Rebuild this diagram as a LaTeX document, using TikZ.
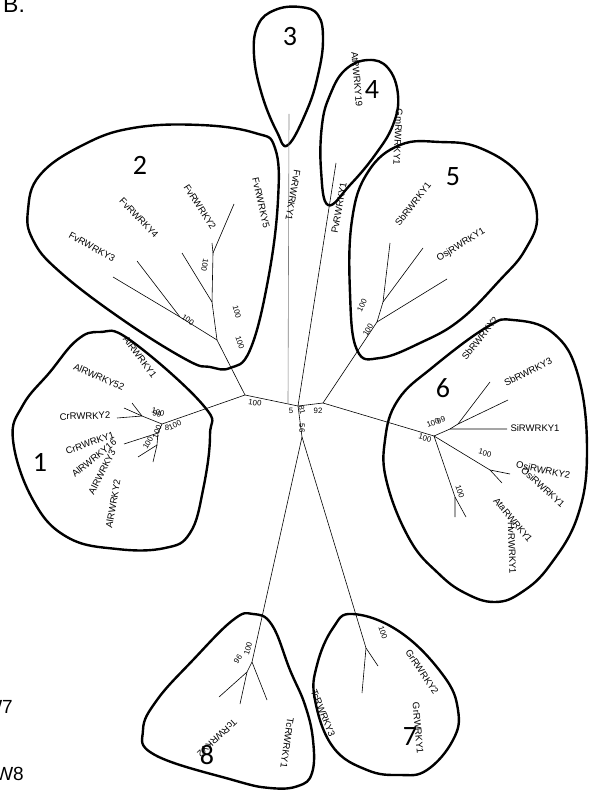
\documentclass[tikz,border=0pt]{standalone}
\usepackage{fontspec}
\setmainfont{Liberation Sans}
\newfontfamily\numfont{Carlito}
\begin{document}
\begin{tikzpicture}[x=1pt,y=-1pt,
  br/.style={line width=0.6pt},
  hull/.style={line width=2.4pt, line join=round},
  lab/.style={font=\fontsize{9.5}{10}\selectfont, inner sep=0pt},
  bs/.style={font=\fontsize{7.8}{9}\selectfont, inner sep=0pt},
  cn/.style={font=\numfont\fontsize{28}{30}\selectfont, inner sep=0pt},
  side/.style={font=\fontsize{19}{21}\selectfont, inner sep=0pt}]
\useasboundingbox (0,0) rectangle (588,791);
\clip (0,0) rectangle (588,791);
% ---------- hulls ----------
\draw[hull] plot[smooth cycle, tension=0.7] coordinates {(288,145) (277,132) (262,95) (254,55) (258,25) (275,10) (300,7) (318,15) (323,40) (318,75) (307,110)};
\draw[hull] plot[smooth cycle, tension=0.7] coordinates {(328,205) (321,170) (322,125) (330,95) (345,70) (368,60) (388,68) (398,95) (393,125) (375,155) (350,185)};
\draw[hull] plot[smooth cycle, tension=0.7] coordinates {(357,350) (350,293) (352,220) (368,172) (400,145) (440,142) (480,148) (520,175) (537,215) (525,250) (500,280) (460,320) (420,343) (380,358)};
\draw[hull] plot[smooth cycle, tension=0.7] coordinates {(230,368) (210,367) (187,360) (123,320) (60,272) (33,240) (28,210) (40,175) (83,145) (133,128) (200,125) (255,133) (275,148) (278,200) (268,280) (250,350)};
\draw[hull] plot[smooth cycle, tension=0.7] coordinates {(100,332) (130,340) (203,405) (210,435) (203,490) (190,533) (165,548) (117,549) (67,537) (33,500) (13,440) (23,405) (50,372) (77,340)};
\draw[hull] plot[smooth cycle, tension=0.7] coordinates {(513,320) (553,333) (578,375) (587,450) (578,515) (550,565) (522,592) (495,602) (465,593) (438,573) (410,540) (387,483) (385,440) (398,400) (433,367) (487,327)};
\draw[hull] plot[smooth cycle, tension=0.7] coordinates {(353,614) (400,632) (443,675) (458,710) (453,740) (427,770) (400,775) (367,770) (333,747) (315,700) (317,665) (333,628)};
\draw[hull] plot[smooth cycle, tension=0.7] coordinates {(253,614) (272,625) (290,670) (305,705) (313,740) (312,773) (298,786) (270,788) (233,780) (155,755) (143,730) (157,700) (193,660) (233,620)};
% ---------- tree coordinates ----------
\coordinate (n0) at (245,395);
\coordinate (n3b) at (288,404);
\coordinate (nc) at (298,406);
\coordinate (n92) at (323,403);
\coordinate (nlow) at (302,437);
\coordinate (t3) at (289,114);
\coordinate (t4) at (336,163);
% cluster 2
\coordinate (n2) at (217,340);
\coordinate (n2b) at (180,317);
\coordinate (t2a) at (113,277);
\coordinate (t2b) at (137,261);
\coordinate (n2c) at (212,302);
\coordinate (t2c) at (182,253);
\coordinate (n2d) at (213,253);
\coordinate (t2d) at (212,243);
\coordinate (t2e) at (234,204);
% cluster 1
\coordinate (n1) at (162,424);
\coordinate (n1f) at (142,416);
\coordinate (t1a) at (117,418);
\coordinate (t1b) at (124,408);
\coordinate (t1c) at (132,403);
\coordinate (n1g) at (158,433);
\coordinate (t1d) at (124,444);
\coordinate (n1h) at (157,445);
\coordinate (t1e) at (138,457);
\coordinate (t1f) at (153,462);
% cluster 6
\coordinate (n6) at (434,436);
\coordinate (n6j) at (450,429);
\coordinate (t6a) at (507,429);
\coordinate (n6k) at (458,424);
\coordinate (t6b) at (490,382);
\coordinate (t6c) at (508,400);
\coordinate (n6l) at (490,470);
\coordinate (t6d) at (510,474);
\coordinate (t6e) at (502,483);
\coordinate (n6m) at (455,497);
\coordinate (t6f) at (455,517);
\coordinate (t6g) at (466,517);
% cluster 5
\coordinate (n5) at (377,322);
\coordinate (n5o) at (383,302);
\coordinate (t5a) at (390,243);
\coordinate (t5b) at (423,248);
\coordinate (t5c) at (447,279);
% cluster 7
\coordinate (n7) at (366,648);
\coordinate (t7a) at (378,666);
\coordinate (t7b) at (362,693);
% cluster 8
\coordinate (n8) at (252,662);
\coordinate (t8a) at (267,700);
\coordinate (n8r) at (247,672);
\coordinate (t8b) at (219,697);
\coordinate (t8c) at (240,704);
% ---------- branches ----------
\draw[br] (n0) -- (nc) -- (n92);
\draw[br, gray] (n3b) -- (t3);
\draw[br] (nc) -- (nlow);
\draw[br] (nc) -- (t4);
\draw[br] (n0) -- (n2);
\draw[br] (n2) -- (n2b) -- (t2a);
\draw[br] (n2b) -- (t2b);
\draw[br] (n2) -- (n2c) -- (t2c);
\draw[br] (n2c) -- (n2d) -- (t2d);
\draw[br] (n2d) -- (t2e);
\draw[br] (n0) -- (n1);
\draw[br] (n1) -- (n1f) -- (t1a);
\draw[br] (n1f) -- (t1b);
\draw[br] (n1f) -- (t1c);
\draw[br] (n1) -- (n1g) -- (t1d);
\draw[br] (n1g) -- (n1h) -- (t1e);
\draw[br] (n1h) -- (t1f);
\draw[br] (n92) -- (n6);
\draw[br] (n6) -- (n6j) -- (t6a);
\draw[br] (n6j) -- (n6k) -- (t6b);
\draw[br] (n6k) -- (t6c);
\draw[br] (n6) -- (n6l) -- (t6d);
\draw[br] (n6l) -- (t6e);
\draw[br] (n6) -- (n6m) -- (t6f);
\draw[br] (n6m) -- (t6g);
\draw[br] (n92) -- (n5);
\draw[br] (n5) -- (n5o) -- (t5a);
\draw[br] (n5o) -- (t5b);
\draw[br] (n5) -- (t5c);
\draw[br] (nlow) -- (n7) -- (t7a);
\draw[br] (n7) -- (t7b);
\draw[br] (nlow) -- (n8) -- (t8a);
\draw[br] (n8) -- (n8r) -- (t8b);
\draw[br] (n8r) -- (t8c);
% ---------- bootstrap values ----------
\node[bs, rotate=-8] (b1) at (255,403) {100};
\node[bs] (b2) at (291,411) {5};
\node[bs, rotate=-75] (b3) at (302,410) {81};
\node[bs] (b4) at (318,411) {92};
\node[bs, rotate=-90] (b5) at (302,428) {56};
\node[bs, rotate=-100] (b6) at (205,265) {100};
\node[bs, rotate=-75] (b7) at (237,312) {100};
\node[bs, rotate=-70] (b8) at (240,343) {100};
\node[bs, rotate=-35] (b9) at (188,320) {100};
\node[bs, rotate=-15] (b10) at (158,412) {100};
\node[bs, rotate=-15] (b11) at (157,414) {99};
\node[bs, rotate=25] (b12) at (175,425) {100};
\node[bs] (b13) at (167,428) {8};
\node[bs, rotate=70] (b14) at (157,432) {100};
\node[bs, rotate=60] (b15) at (148,443) {100};
\node[bs, rotate=20] (b16) at (433,423) {100};
\node[bs, rotate=20] (b17) at (441,420) {99};
\node[bs, rotate=-15] (b18) at (425,438) {100};
\node[bs, rotate=-15] (b19) at (485,453) {100};
\node[bs, rotate=-70] (b20) at (460,492) {100};
\node[bs, rotate=65] (b21) at (362,305) {100};
\node[bs, rotate=60] (b22) at (368,330) {100};
\node[bs, rotate=-70] (b23) at (383,633) {100};
\node[bs, rotate=75] (b24) at (248,649) {100};
\node[bs, rotate=55] (b25) at (238,659) {96};
% ---------- taxon labels ----------
\node[lab, rotate=-100] (l1) at (293,195) {FvRWRKY1};
\node[lab, rotate=-77] (l2) at (261,203) {FvRWRKY5};
\node[lab, rotate=-57] (l3) at (200,207) {FvRWRKY2};
\node[lab, rotate=-46] (l4) at (139,218) {FvRWRKY4};
\node[lab, rotate=-29] (l5) at (92,247) {FvRWRKY3};
\node[lab, rotate=-85] (l6) at (357,79) {AtRWRKY19};
\node[lab, rotate=-93] (l7) at (398,137) {GmRWRKY1};
\node[lab, rotate=80] (l8) at (339,208) {PvRWRKY1};
\node[lab, rotate=52] (l9) at (413,204) {SbRWRKY1};
\node[lab, rotate=32] (l10) at (461,245) {OsjRWRKY1};
\node[lab, rotate=51] (l11) at (480,338) {SbRWRKY2};
\node[lab, rotate=27] (l12) at (528,372) {SbRWRKY3};
\node[lab] (l13) at (535,428) {SiRWRKY1};
\node[lab, rotate=-12] (l14) at (543,471) {OsjRWRKY2};
\node[lab, rotate=-42] (l15) at (543,487) {OsiRWRKY1};
\node[lab, rotate=-50] (l16) at (513,520) {AtaRWRKY1};
\node[lab, rotate=-88] (l17) at (512,548) {HvRWRKY1};
\node[lab, rotate=-56] (l18) at (422,672) {GrRWRKY2};
\node[lab, rotate=-85] (l19) at (418,728) {GrRWRKY1};
\node[lab, rotate=-68] (l20) at (323,713) {TcRWRKY3};
\node[lab, rotate=-98] (l21) at (287,743) {TcRWRKY1};
\node[lab, rotate=-137] (l22) at (217,738) {TcRWRKY2};
\node[lab, rotate=-53] (l23) at (140,357) {AlRWRKY1};
\node[lab, rotate=-24] (l24) at (99,377) {AlRWRKY52};
\node[lab, rotate=2] (l25) at (85,416) {CrRWRKY2};
\node[lab, rotate=19] (l26) at (90,443) {CrRWRKY1};
\node[lab, rotate=39] (l27) at (94,458) {AlRWRKY16};
\node[lab, rotate=63] (l28) at (102,472) {AlRWRKY3};
\node[lab, rotate=80] (l29) at (113,504) {AlRWRKY2};
% ---------- cluster numbers ----------
\node[cn] (c1) at (40,462) {1};
\node[cn] (c2) at (140,165) {2};
\node[cn] (c3) at (290,37) {3};
\node[cn] (c4) at (372,90) {4};
\node[cn] (c5) at (453,177) {5};
\node[cn] (c6) at (443,388) {6};
\node[cn] (c7) at (410,737) {7};
\node[cn] (c8) at (207,755) {8};
% ---------- panel letter and cut-off side texts ----------
\node[font=\fontsize{23}{25}\selectfont, inner sep=0pt, anchor=base west] (pb) at (3,13) {B.};
\node[side, anchor=base east] (w7) at (13,713) {W7};
\node[side, anchor=base east] (w8) at (24,780) {W8};
\end{tikzpicture}
\end{document}
